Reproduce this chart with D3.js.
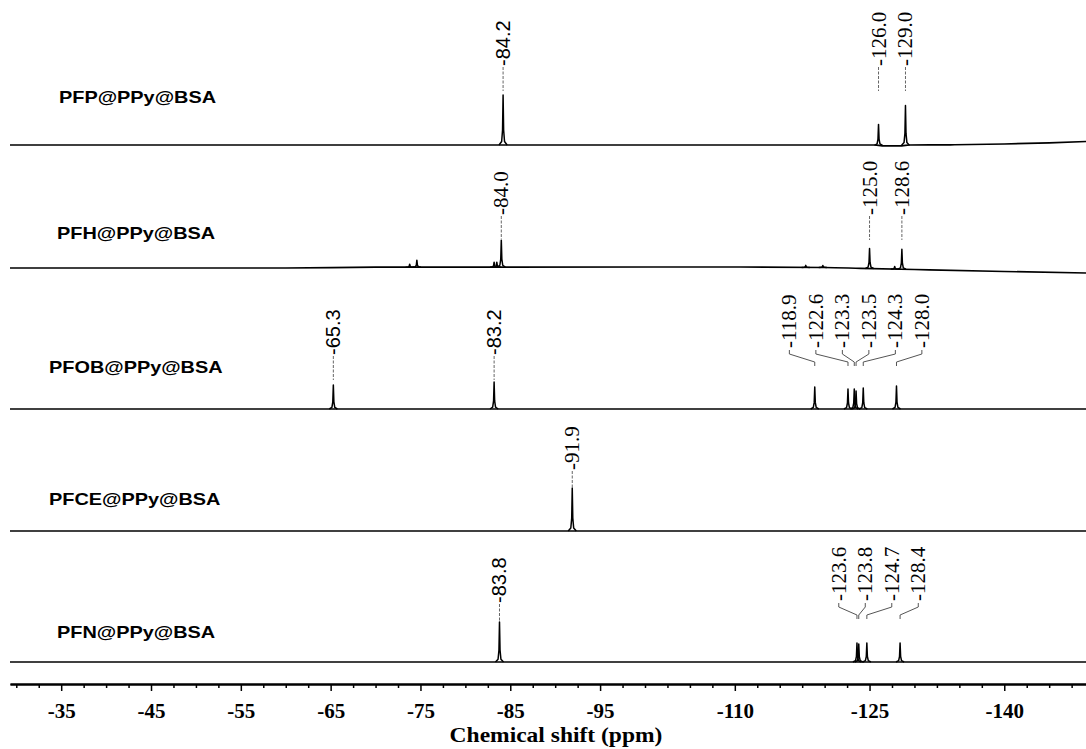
<!DOCTYPE html>
<html><head><meta charset="utf-8">
<script src="https://cdn.jsdelivr.net/npm/d3@7"></script>
<style>body{margin:0;background:#fff}svg{display:block;background:#fff}</style>
</head><body>
<svg id="chart" width="1086" height="749"></svg>
<script>
// ---------- data ----------
const sampleNames = ["PFP@PPy@BSA", "PFH@PPy@BSA", "PFOB@PPy@BSA", "PFCE@PPy@BSA", "PFN@PPy@BSA"];

// peaks: [ppm, height]
const pfpPeaks  = [[-84.2, 50], [-126.0, 21], [-129.0, 40]];
const pfhPeaks  = [[-73.8, 3], [-74.6, 7], [-83.2, 5], [-83.5, 5], [-84.0, 27], [-117.9, 2], [-119.8, 2], [-125.0, 20], [-127.8, 2.5], [-128.6, 20]];
const pfobPeaks = [[-65.3, 24], [-83.2, 27], [-118.9, 22], [-122.6, 20], [-123.3, 20], [-123.5, 18], [-124.3, 21], [-128.0, 23]];
const pfcePeaks = [[-91.9, 43]];
const pfnPeaks  = [[-83.8, 40], [-123.6, 19], [-123.8, 18], [-124.7, 19], [-128.4, 19]];

// baseline drift: [ppm, offset]
const pfpBase  = [[-29.3, 0], [-125.6, 0], [-126.4, -0.8], [-128.6, -0.8], [-129.4, 0], [-134, 0.2], [-140, 1], [-145, 2.2], [-149.1, 3.5]];
const pfhBase  = [[-29.3, 0], [-60, 0], [-70, 0.8], [-110, 1], [-120, 0.5], [-124, -0.3], [-130, -1.5], [-140, -3.5], [-149.1, -5]];
const pfobBase = [[-29.3, 0], [-149.1, 0]];
const pfceBase = [[-29.3, 0], [-149.1, 0]];
const pfnBase  = [[-29.3, 0], [-149.1, 0]];

// annotated shifts: single labels and bracketed groups
const pfpSingles  = [-84.2, -126.0, -129.0];
const pfhSingles  = [-84.0, -125.0, -128.6];
const pfobSingles = [-65.3, -83.2];
const pfobGroup   = [-118.9, -122.6, -123.3, -123.5, -124.3, -128.0];
const pfceSingles = [-91.9];
const pfnSingles  = [-83.8];
const pfnGroup    = [-123.6, -123.8, -124.7, -128.4];
const sansLabels  = [-84.2, -65.3, -83.2, -83.8];

const majorTicks = [-35, -45, -55, -65, -75, -85, -95, -110, -125, -140];
const axisTitle = "Chemical shift (ppm)";

// ---------- layout ----------
const SERIF = "'Liberation Serif', 'Times New Roman', Times, serif";
const SANS = "'Liberation Sans', Arial, Helvetica, sans-serif";
const svg = d3.select("#chart");
const x = d3.scaleLinear().domain([-29.3, -149.1]).range([10, 1086]);

const panels = [
  {name: sampleNames[0], peaks: pfpPeaks,  base: pfpBase,  singles: pfpSingles,  group: [],        y0: 145, nameX: 59, nameY: 103, singleBottom: 66,  groupBottom: 66},
  {name: sampleNames[1], peaks: pfhPeaks,  base: pfhBase,  singles: pfhSingles,  group: [],        y0: 268, nameX: 57, nameY: 239, singleBottom: 215, groupBottom: 215},
  {name: sampleNames[2], peaks: pfobPeaks, base: pfobBase, singles: pfobSingles, group: pfobGroup, y0: 409, nameX: 49, nameY: 373, singleBottom: 355, groupBottom: 348},
  {name: sampleNames[3], peaks: pfcePeaks, base: pfceBase, singles: pfceSingles, group: [],        y0: 531, nameX: 49, nameY: 505, singleBottom: 470, groupBottom: 470},
  {name: sampleNames[4], peaks: pfnPeaks,  base: pfnBase,  singles: pfnSingles,  group: pfnGroup,  y0: 662, nameX: 57, nameY: 638, singleBottom: 603, groupBottom: 601}
];

function baseAt(base, p) {
  for (let i = 0; i < base.length - 1; i++) {
    const a = base[i], b = base[i + 1];
    if (p <= a[0] && p >= b[0]) {
      const t = (a[0] - p) / (a[0] - b[0]);
      return a[1] + t * (b[1] - a[1]);
    }
  }
  return base[base.length - 1][1];
}

panels.forEach(P => {
  const y = d3.scaleLinear().domain([0, 100]).range([P.y0, P.y0 - 100]);
  const line = d3.line().x(d => x(d[0])).y(d => y(d[1])).curve(d3.curveMonotoneX);
  const peakLine = d3.line().x(d => x(d[0])).y(d => y(d[1]));
  const g = svg.append("g");

  // baseline
  g.append("path").datum(P.base).attr("d", line)
    .attr("fill", "none").attr("stroke", "#000").attr("stroke-width", 1.7);

  // peaks
  P.peaks.forEach(([p, h]) => {
    const b = baseAt(P.base, p);
    const shape = [[p + 0.45, b], [p + 0.16, b + h * 0.07], [p + 0.06, b + h * 0.3], [p, b + h],
                   [p - 0.06, b + h * 0.3], [p - 0.16, b + h * 0.07], [p - 0.45, b]];
    g.append("path").datum(shape).attr("d", peakLine)
      .attr("fill", "none").attr("stroke", "#000").attr("stroke-width", 1.5)
      .attr("stroke-linejoin", "round");
  });

  const peakTop = p => {
    const pk = P.peaks.find(d => Math.abs(d[0] - p) < 0.05);
    return y(baseAt(P.base, p) + (pk ? pk[1] : 0));
  };

  // sample name
  g.append("text").text(P.name)
    .attr("transform", `translate(${P.nameX},${P.nameY}) scale(1.17,1)`)
    .attr("font-family", SANS)
    .attr("font-weight", "bold").attr("font-size", 17).attr("fill", "#000");

  // single labels
  P.singles.forEach(p => {
    const lx = x(p);
    const sans = sansLabels.includes(p);
    g.append("text").text(p.toFixed(1))
      .attr("transform", `translate(${lx + 7},${P.singleBottom}) rotate(-90)`)
      .attr("font-family", sans ? SANS : SERIF)
      .attr("font-size", sans ? 20 : 21).attr("fill", "#000");
    const top = peakTop(p);
    const end = Math.min(top - 1, P.singleBottom + 25);
    g.append("line").attr("x1", lx).attr("x2", lx)
      .attr("y1", P.singleBottom + 1).attr("y2", end)
      .attr("stroke", "#666").attr("stroke-width", 1).attr("stroke-dasharray", "3,1.5");
  });

  // bracketed group labels
  if (P.group.length) {
    const xs = P.group.map(x);
    const cx = (d3.min(xs) + d3.max(xs)) / 2;
    const n = P.group.length;
    P.group.forEach((p, i) => {
      const lx = cx + (i - (n - 1) / 2) * 26.5;
      g.append("text").text(p.toFixed(1))
        .attr("transform", `translate(${lx + 7},${P.groupBottom}) rotate(-90)`)
        .attr("font-family", SERIF)
        .attr("font-size", 21).attr("fill", "#000");
      const yb = P.groupBottom;
      const px = x(p);
      g.append("path")
        .attr("d", `M${lx},${yb + 2}L${lx},${yb + 6}L${px},${yb + 14}L${px},${yb + 18}`)
        .attr("fill", "none").attr("stroke", "#555").attr("stroke-width", 1);
    });
  }
});

// ---------- axis ----------
const axisY = 684;
const minor = d3.range(-30, -149, -2.5).filter(v => !majorTicks.includes(v));
const gMinor = svg.append("g").attr("transform", `translate(0,${axisY})`)
  .call(d3.axisBottom(x).tickValues(minor).tickSize(4).tickSizeOuter(0).tickFormat(""));
const gMajor = svg.append("g").attr("transform", `translate(0,${axisY})`)
  .call(d3.axisBottom(x).tickValues(majorTicks).tickSize(7).tickSizeOuter(0).tickFormat(d => String(d)));
[gMinor, gMajor].forEach(gg => {
  gg.attr("font-family", SERIF);
  gg.select(".domain").attr("stroke", "#000").attr("stroke-width", 2);
  gg.selectAll(".tick line").attr("stroke", "#000").attr("stroke-width", 1.5);
});
gMajor.selectAll(".tick text")
  .attr("y", 34).attr("dy", 0)
  .attr("font-family", SERIF)
  .attr("font-weight", "bold").attr("font-size", 21).attr("fill", "#000");

svg.append("text").text(axisTitle)
  .attr("transform", `translate(556,742) scale(1.12,1)`)
  .attr("text-anchor", "middle")
  .attr("font-family", SERIF)
  .attr("font-weight", "bold").attr("font-size", 21).attr("fill", "#000");
</script>
</body></html>
